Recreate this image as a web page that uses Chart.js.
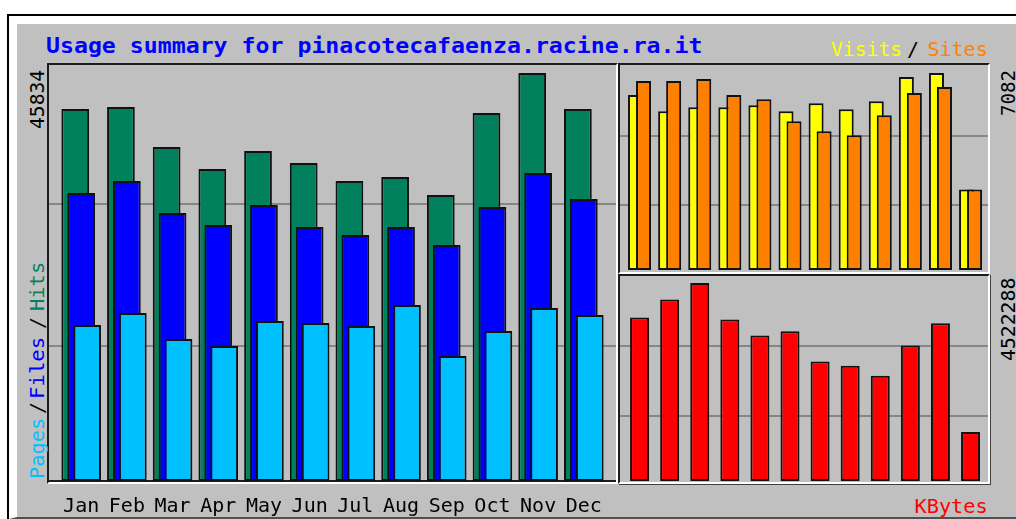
<!DOCTYPE html>
<html>
<head>
<meta charset="utf-8">
<title>Usage summary</title>
<script src="https://cdn.jsdelivr.net/npm/chart.js@4.4.1/dist/chart.umd.min.js"></script>
<style>
  html, body { margin: 0; padding: 0; width: 1016px; height: 519px; overflow: hidden; background: #fff; }
  .abs { position: absolute; box-sizing: border-box; }
  #frame { left: 7px; top: 14px; width: 1009px; height: 505px; border-top: 2px solid #000; border-left: 2px solid #000; }
  #plate { left: 9px; top: 16px; width: 1007px; height: 503px; background: #c0c0c0;
           border-top: 8px solid #fff; border-left: 8px solid #fff; border-bottom: 2px solid #505050; }
  .panel { border: 2px solid; border-color: #1c1c1c #fff #fff #1c1c1c; }
  #pMain { left: 47px; top: 63px; width: 571px; height: 421px; box-shadow: inset 0 -2px 0 #1c1c1c; }
  #pVis  { left: 618px; top: 63px; width: 372px; height: 211px; }
  #pKB   { left: 618px; top: 274px; width: 372px; height: 210px; box-shadow: 1px 1px 0 #404040; }
  canvas { position: absolute; }
  .lbl { position: absolute; left: 0; top: 0; white-space: nowrap; line-height: 1;
         font: 20px "DejaVu Sans Mono", monospace; color: #000; transform-origin: 0 0; }
  .title { font-weight: bold; font-size: 22px; color: #0000ff; }
</style>
</head>
<body>
<div id="frame" class="abs"></div>
<div id="plate" class="abs"></div>
<div id="pMain" class="abs panel"></div>
<div id="pVis" class="abs panel"></div>
<div id="pKB" class="abs panel"></div>

<canvas id="main" width="567" height="454" style="left:49px;top:65px"></canvas>
<canvas id="visits" width="368" height="207" style="left:620px;top:65px"></canvas>
<canvas id="kbytes" width="368" height="206" style="left:620px;top:276px"></canvas>

<!-- data-x / data-y: where the text box starts, data-len: how long it should be, data-up: reads bottom to top -->
<span class="lbl title" data-x="46" data-y="33" data-len="657">Usage summary for pinacotecafaenza.racine.ra.it</span>
<span class="lbl" style="color:#ffff00" data-x="831" data-y="36.5" data-len="71">Visits</span>
<span class="lbl" data-x="907" data-y="36.5">/</span>
<span class="lbl" style="color:#ff8000" data-x="927.5" data-y="36.5" data-len="60">Sites</span>
<span class="lbl" style="color:#ff0000" data-x="914.5" data-y="494" data-len="73">KBytes</span>

<span class="lbl" id="maxHits" data-x="25" data-y="129" data-len="59" data-up="1"></span>
<span class="lbl" style="color:#00c0ff" data-x="25" data-y="479" data-len="61" data-up="1">Pages</span>
<span class="lbl" data-x="25" data-y="414" data-up="1">/</span>
<span class="lbl" style="color:#0000ff" data-x="25" data-y="399" data-len="62" data-up="1">Files</span>
<span class="lbl" data-x="25" data-y="329" data-up="1">/</span>
<span class="lbl" style="color:#00805c" data-x="25" data-y="311" data-len="49" data-up="1">Hits</span>
<span class="lbl" id="maxVisits" data-x="995.5" data-y="116" data-len="46" data-up="1"></span>
<span class="lbl" id="maxKBytes" data-x="995.5" data-y="361" data-len="83" data-up="1"></span>

<script>
'use strict';

var months = ['Jan', 'Feb', 'Mar', 'Apr', 'May', 'Jun', 'Jul', 'Aug', 'Sep', 'Oct', 'Nov', 'Dec'];

var hits   = [41792, 42013, 37518, 35047, 37071, 35722, 33704, 34152, 32128, 41338, 45834, 41786];
var files  = [32351, 33702, 30106, 28757, 31004, 28533, 27639, 28531, 26514, 30779, 34603, 31682];
var pages  = [17526, 18871, 15950, 15168, 17973, 17748, 17412, 19770, 14041, 16852, 19437, 18646];

var visits = [6287, 5709, 5853, 5853, 5925, 5709, 5998, 5781, 6070, 6937, 7082, 2890];
var sites  = [6792, 6792, 6865, 6287, 6142, 5347, 4986, 4841, 5564, 6359, 6576, 2890];

var kbytes = [3734900, 4148100, 4522288, 3689200, 3321800, 3420400, 2731800, 2633100, 2403500, 3092200, 3604100, 1118000];

// the two grey lines in every panel, as a part of the panel's top value
var gridSteps = [0.33, 0.68];

var maxHits = Math.max.apply(null, hits);
var maxVisits = Math.max.apply(null, visits.concat(sites));
var maxKBytes = Math.max.apply(null, kbytes);

Chart.defaults.font.family = '"DejaVu Sans Mono", monospace';

// grey lines across the whole panel, then the datasets back to front
// (first dataset at the back, so the bars overlap like the webalizer ones)
var panelLook = {
  id: 'panelLook',
  beforeDatasetsDraw: function (chart) {
    var ctx = chart.ctx;
    var y = chart.scales.y;
    ctx.save();
    ctx.strokeStyle = '#868686';
    ctx.lineWidth = 2;
    gridSteps.forEach(function (f) {
      var py = Math.round(y.getPixelForValue(y.max * f));
      ctx.beginPath();
      ctx.moveTo(0, py);
      ctx.lineTo(chart.width, py);
      ctx.stroke();
    });
    ctx.restore();
    chart.data.datasets.forEach(function (ds, i) {
      chart.getDatasetMeta(i).controller.draw();
    });
    return false;
  }
};

function bars(label, values, color) {
  return {
    label: label,
    data: values,
    backgroundColor: color,
    borderColor: '#111',
    borderWidth: 2,
    borderSkipped: false
  };
}

function makeChart(id, datasets, o) {
  return new Chart(document.getElementById(id), {
    type: 'bar',
    data: {
      labels: months,
      datasets: datasets
    },
    options: {
      responsive: false,
      animation: false,
      layout: { padding: o.padding },
      datasets: {
        bar: { categoryPercentage: o.cat, barPercentage: o.bar }
      },
      scales: {
        x: {
          type: 'category',
          offset: true,
          display: o.showMonths,
          grid: { display: false, drawTicks: false },
          border: { display: false },
          ticks: { color: '#000', font: { size: 20 }, padding: 14, maxRotation: 0, autoSkip: false },
          afterFit: function (scale) {
            if (o.showMonths) scale.height = 38;
          }
        },
        y: { display: false, min: 0, max: o.max }
      },
      plugins: {
        legend: { display: false },
        tooltip: { enabled: false }
      }
    },
    plugins: [panelLook]
  });
}

makeChart('main', [
  bars('Hits', hits, '#00805c'),
  bars('Files', files, '#0000ff'),
  bars('Pages', pages, '#00c0ff')
], { padding: { left: 6, right: 6, top: 8, bottom: 0 }, cat: 0.39, bar: 4.67, max: maxHits, showMonths: true });

makeChart('visits', [
  bars('Visits', visits, '#ffff00'),
  bars('Sites', sites, '#ff8000')
], { padding: { left: 4.5, right: 2.4, top: 8, bottom: 2 }, cat: 0.532, bar: 1.875, max: maxVisits, showMonths: false });

makeChart('kbytes', [
  bars('KBytes', kbytes, '#ff0000')
], { padding: { left: 4.5, right: 2.4, top: 7, bottom: 1 }, cat: 1, bar: 0.631, max: maxKBytes, showMonths: false });

// labels: top values come from the data, then every label is put in place
document.getElementById('maxHits').textContent = maxHits;
document.getElementById('maxVisits').textContent = maxVisits;
document.getElementById('maxKBytes').textContent = maxKBytes;

var labels = document.querySelectorAll('.lbl');
for (var i = 0; i < labels.length; i++) {
  var el = labels[i];
  var len = parseFloat(el.dataset.len);
  var k = len ? len / el.offsetWidth : 1;
  el.style.transform = 'translate(' + el.dataset.x + 'px,' + el.dataset.y + 'px)' +
    (el.dataset.up ? ' rotate(-90deg)' : '') + ' scaleX(' + k + ')';
}
</script>
</body>
</html>
